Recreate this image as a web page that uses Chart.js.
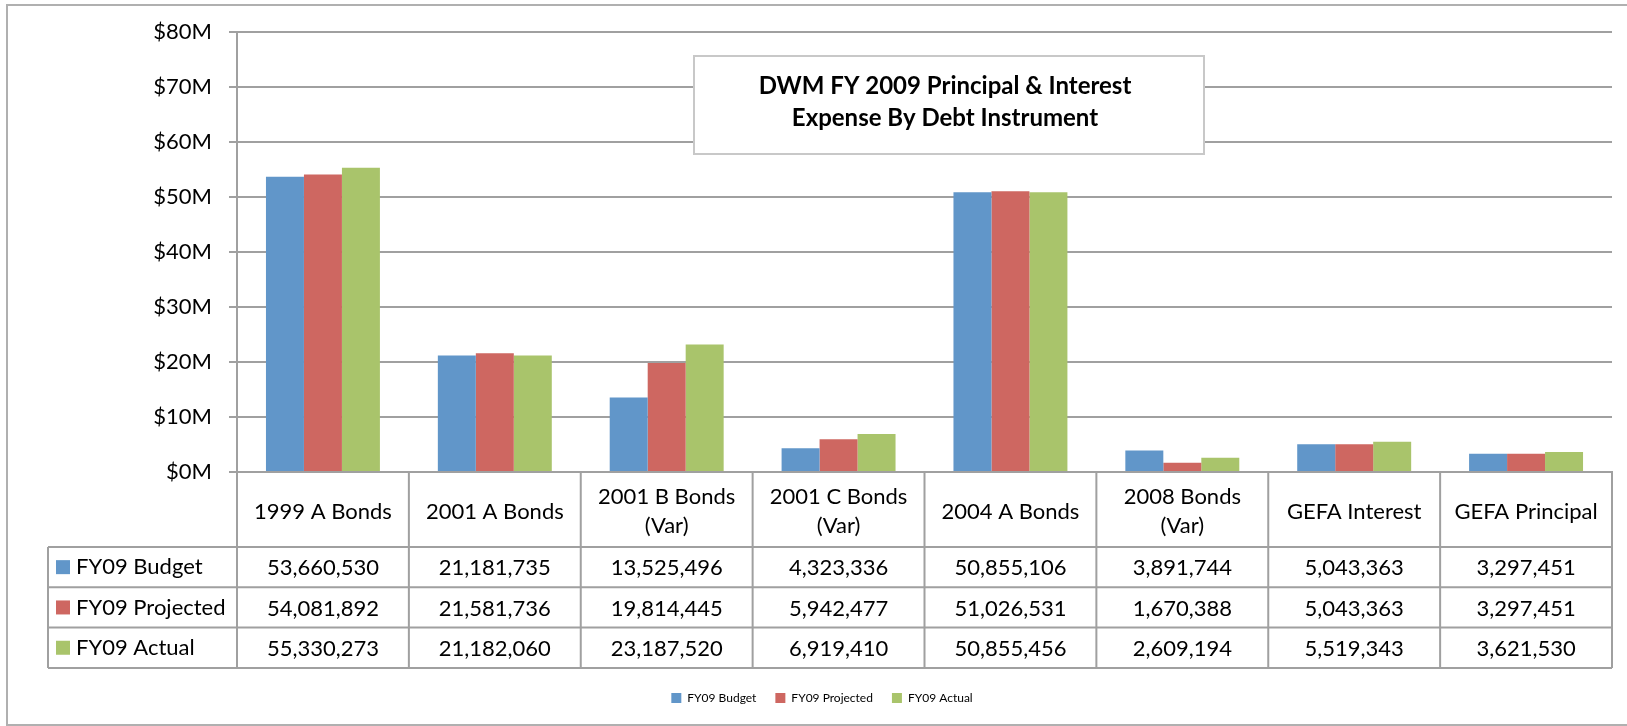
<!DOCTYPE html>
<html>
<head>
<meta charset="utf-8">
<script src="https://cdn.jsdelivr.net/npm/chart.js"></script>
<style>
  html, body { margin: 0; padding: 0; background: #fff; }
</style>
</head>
<body>
<canvas id="debtChart" width="1627" height="726"></canvas>
<script>
// data
const categories = [
    '1999 A Bonds', '2001 A Bonds', ['2001 B Bonds', '(Var)'], ['2001 C Bonds', '(Var)'],
    '2004 A Bonds', ['2008 Bonds', '(Var)'], 'GEFA Interest', 'GEFA Principal'
];
const budget = [53660530, 21181735, 13525496, 4323336, 50855106, 3891744, 5043363, 3297451];
const projected = [54081892, 21581736, 19814445, 5942477, 51026531, 1670388, 5043363, 3297451];
const actual = [55330273, 21182060, 23187520, 6919410, 50855456, 2609194, 5519343, 3621530];
const seriesNames = ['FY09 Budget', 'FY09 Projected', 'FY09 Actual'];
const seriesColors = ['#6196c9', '#ce6761', '#a9c46b'];
const titleLines = ['DWM FY 2009 Principal & Interest', 'Expense By Debt Instrument'];
const yMax = 80000000;
const yStep = 10000000;

const gridGray = '#a0a0a0';
const fontFamily = 'Lato';

// Draws frame, title box and the data table under the x axis
const tablePlugin = {
    id: 'dataTable',
    afterLayout(chart) {
        // legend sits a little right of centre in the original
        chart.legend.left += 16;
        chart.legend.right += 16;
    },
    beforeDraw(chart) {
        const ctx = chart.ctx;
        ctx.save();
        ctx.fillStyle = '#fff';
        ctx.fillRect(0, 0, chart.width, chart.height);
        ctx.strokeStyle = '#b0b0b0';
        ctx.lineWidth = 2;
        ctx.strokeRect(7, 5, chart.width, chart.height - 6);
        ctx.restore();
    },
    afterDraw(chart) {
        const ctx = chart.ctx;
        const x = chart.scales.x;
        const area = chart.chartArea;
        const half = (x.getPixelForValue(1) - x.getPixelForValue(0)) / 2;
        const rows = [budget, projected, actual];
        const rowTop = 547, rowH = 40.3, tableLeft = 48;
        const tableBottom = rowTop + rows.length * rowH;

        ctx.save();
        ctx.strokeStyle = gridGray;
        ctx.lineWidth = 2;
        ctx.beginPath();
        for (let r = 0; r <= rows.length; r++) {
            const y = rowTop + r * rowH;
            ctx.moveTo(tableLeft, y);
            ctx.lineTo(area.right, y);
        }
        ctx.moveTo(tableLeft, rowTop);
        ctx.lineTo(tableLeft, tableBottom);
        for (let i = 0; i <= categories.length; i++) {
            const px = i < categories.length ? x.getPixelForValue(i) - half : x.getPixelForValue(i - 1) + half;
            ctx.moveTo(px, area.bottom);
            ctx.lineTo(px, tableBottom);
        }
        ctx.stroke();

        ctx.font = '22px ' + fontFamily;
        ctx.fillStyle = '#000';
        ctx.textBaseline = 'middle';
        rows.forEach((vals, r) => {
            const cy = rowTop + r * rowH + rowH / 2;
            ctx.fillStyle = seriesColors[r];
            ctx.fillRect(56, cy - 7, 14, 14);
            ctx.fillStyle = '#000';
            ctx.textAlign = 'left';
            ctx.fillText(seriesNames[r], 76, cy);
            ctx.textAlign = 'center';
            vals.forEach((v, i) => {
                ctx.fillText(v.toLocaleString('en-US'), x.getPixelForValue(i), cy + 1);
            });
        });

        // title box
        ctx.fillStyle = '#fff';
        ctx.fillRect(694, 56, 510, 98);
        ctx.strokeStyle = '#c8c8c8';
        ctx.strokeRect(694, 56, 510, 98);
        ctx.fillStyle = '#000';
        ctx.font = 'bold 24px ' + fontFamily;
        ctx.textAlign = 'center';
        ctx.fillText(titleLines[0], 945, 86);
        ctx.fillText(titleLines[1], 945, 118);
        ctx.restore();
    }
};

const ctx = document.getElementById('debtChart').getContext('2d');
const debtChart = new Chart(ctx, {
    type: 'bar',
    data: {
        labels: categories,
        datasets: [budget, projected, actual].map((vals, i) => ({
            label: seriesNames[i],
            data: vals,
            backgroundColor: seriesColors[i],
            borderWidth: 0,
            categoryPercentage: 0.663,
            barPercentage: 1.0
        }))
    },
    options: {
        responsive: false,
        animation: false,
        layout: {
            padding: { top: 32, right: 15, left: 0, bottom: 12 }
        },
        scales: {
            x: {
                grid: { display: false, drawTicks: false },
                border: { display: true, color: gridGray, width: 2 },
                ticks: {
                    color: '#000',
                    font: { family: fontFamily, size: 22, lineHeight: 1.32 },
                    padding: 25,
                    maxRotation: 0,
                    autoSkip: false,
                    crossAlign: 'center'
                },
                afterFit: (scale) => { scale.height = 201; }
            },
            y: {
                min: 0,
                max: yMax,
                grid: { color: gridGray, lineWidth: 2, tickLength: 8 },
                border: { display: true, color: gridGray, width: 2 },
                ticks: {
                    stepSize: yStep,
                    color: '#000',
                    padding: 17,
                    font: { family: fontFamily, size: 22 },
                    callback: (v) => '$' + (v / 1000000) + 'M'
                },
                afterFit: (scale) => { scale.width = 237; }
            }
        },
        plugins: {
            title: { display: false },
            tooltip: { enabled: false },
            legend: {
                position: 'bottom',
                labels: {
                    color: '#000',
                    boxWidth: 10,
                    boxHeight: 10,
                    padding: 19,
                    font: { family: fontFamily, size: 12 }
                }
            }
        }
    },
    plugins: [tablePlugin]
});
</script>
</body>
</html>
